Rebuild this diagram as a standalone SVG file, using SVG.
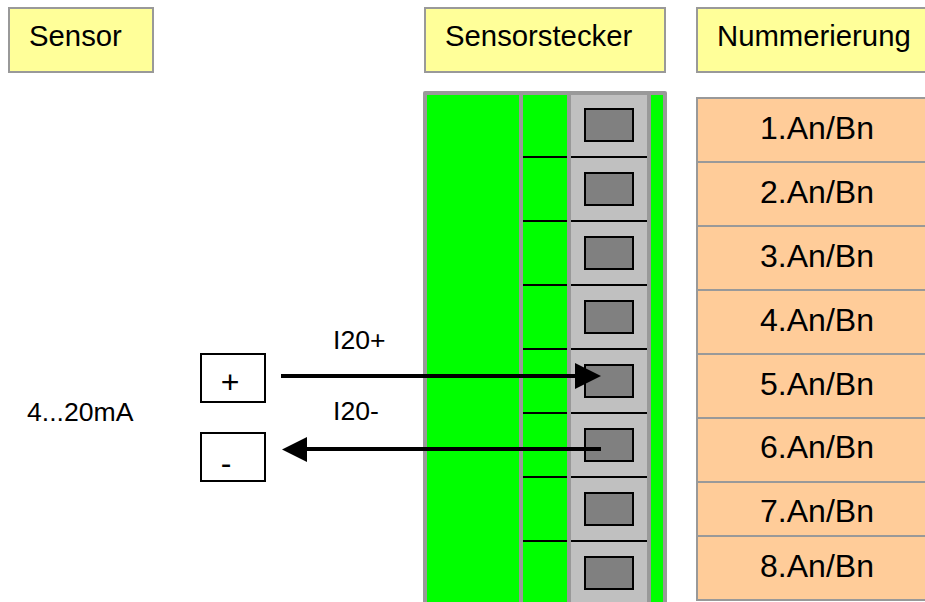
<svg xmlns="http://www.w3.org/2000/svg" width="925" height="602" viewBox="0 0 925 602">
<style>
text{font-family:"Liberation Sans",Arial,sans-serif;fill:#000}
.h{font-size:29.300px}
.n{font-size:32px;text-anchor:middle}
.s{font-size:26.600px}
.m{font-size:32px;text-anchor:middle}
.y{fill:#ffff99;stroke:#999;stroke-width:2}
.o{fill:#ffcc99;stroke:#999;stroke-width:2}
.t{fill:#808080;stroke:#000;stroke-width:2}
.b{fill:#fff;stroke:#000;stroke-width:2}
.c{stroke:#000;stroke-width:4;fill:none}
.k{stroke:#000;stroke-width:2;fill:none}
</style>
<rect width="925" height="602" fill="#fff"/>
<g id="sensor-header"><rect class="y" x="9" y="8" width="144" height="64"/><text class="h" x="29" y="46">Sensor</text></g>
<g id="stecker-header"><rect class="y" x="425" y="8" width="240" height="64"/><text class="h" x="445" y="46">Sensorstecker</text></g>
<g id="nummer-header"><rect class="y" x="697" y="8" width="240" height="64"/><text class="h" x="717" y="46">Nummerierung</text></g>
<g id="connector-body">
<rect x="423" y="91" width="244" height="520" rx="2" fill="#999"/>
<rect x="427" y="95" width="92" height="507" fill="#00ff00"/>
<rect x="523" y="95" width="44" height="507" fill="#00ff00"/>
<rect x="571" y="95" width="76" height="507" fill="#c0c0c0"/>
<rect x="651" y="95" width="12" height="507" fill="#00ff00"/>
<path class="k" d="M523 157H567M571 157H647M523 221H567M571 221H647M523 285H567M571 285H647M523 349H567M571 349H647M523 413H567M571 413H647M523 477H567M571 477H647M523 541H567M571 541H647"/>
</g>
<g id="pin-1"><rect class="t" x="585" y="109" width="48" height="32"/></g>
<g id="pin-2"><rect class="t" x="585" y="173" width="48" height="32"/></g>
<g id="pin-3"><rect class="t" x="585" y="237" width="48" height="32"/></g>
<g id="pin-4"><rect class="t" x="585" y="301" width="48" height="32"/></g>
<g id="pin-5"><rect class="t" x="585" y="365" width="48" height="32"/></g>
<g id="pin-6"><rect class="t" x="585" y="429" width="48" height="32"/></g>
<g id="pin-7"><rect class="t" x="585" y="493" width="48" height="32"/></g>
<g id="pin-8"><rect class="t" x="585" y="557" width="48" height="32"/></g>
<g id="num-1"><rect class="o" x="697" y="98" width="240" height="64"/><text class="n" x="817" y="139">1.An/Bn</text></g>
<g id="num-2"><rect class="o" x="697" y="162" width="240" height="64"/><text class="n" x="817" y="203">2.An/Bn</text></g>
<g id="num-3"><rect class="o" x="697" y="226" width="240" height="64"/><text class="n" x="817" y="267">3.An/Bn</text></g>
<g id="num-4"><rect class="o" x="697" y="290" width="240" height="64"/><text class="n" x="817" y="331">4.An/Bn</text></g>
<g id="num-5"><rect class="o" x="697" y="354" width="240" height="64"/><text class="n" x="817" y="395">5.An/Bn</text></g>
<g id="num-6"><rect class="o" x="697" y="418" width="240" height="64"/><text class="n" x="817" y="458">6.An/Bn</text></g>
<g id="num-7"><rect class="o" x="697" y="482" width="240" height="54"/><text class="n" x="817" y="522">7.An/Bn</text></g>
<g id="num-8"><rect class="o" x="697" y="536" width="240" height="64"/><text class="n" x="817" y="577">8.An/Bn</text></g>
<g id="plus"><rect class="b" x="201" y="354" width="64" height="48"/><text class="m" x="230" y="393">+</text></g>
<g id="minus"><rect class="b" x="201" y="433" width="64" height="48"/><text class="m" x="226" y="474">-</text></g>
<g id="signal"><text class="s" x="27" y="421">4...20mA</text></g>
<g id="connectors">
<path class="c" d="M281 376H578"/><path d="M575 363L601 376L575 389Z"/>
<path class="c" d="M601 449H305"/><path d="M307 437L282 449.500L307 462Z"/>
</g>
<g id="labels"><text class="s" x="333" y="349">I20+</text><text class="s" x="333" y="420">I20-</text></g>
</svg>
